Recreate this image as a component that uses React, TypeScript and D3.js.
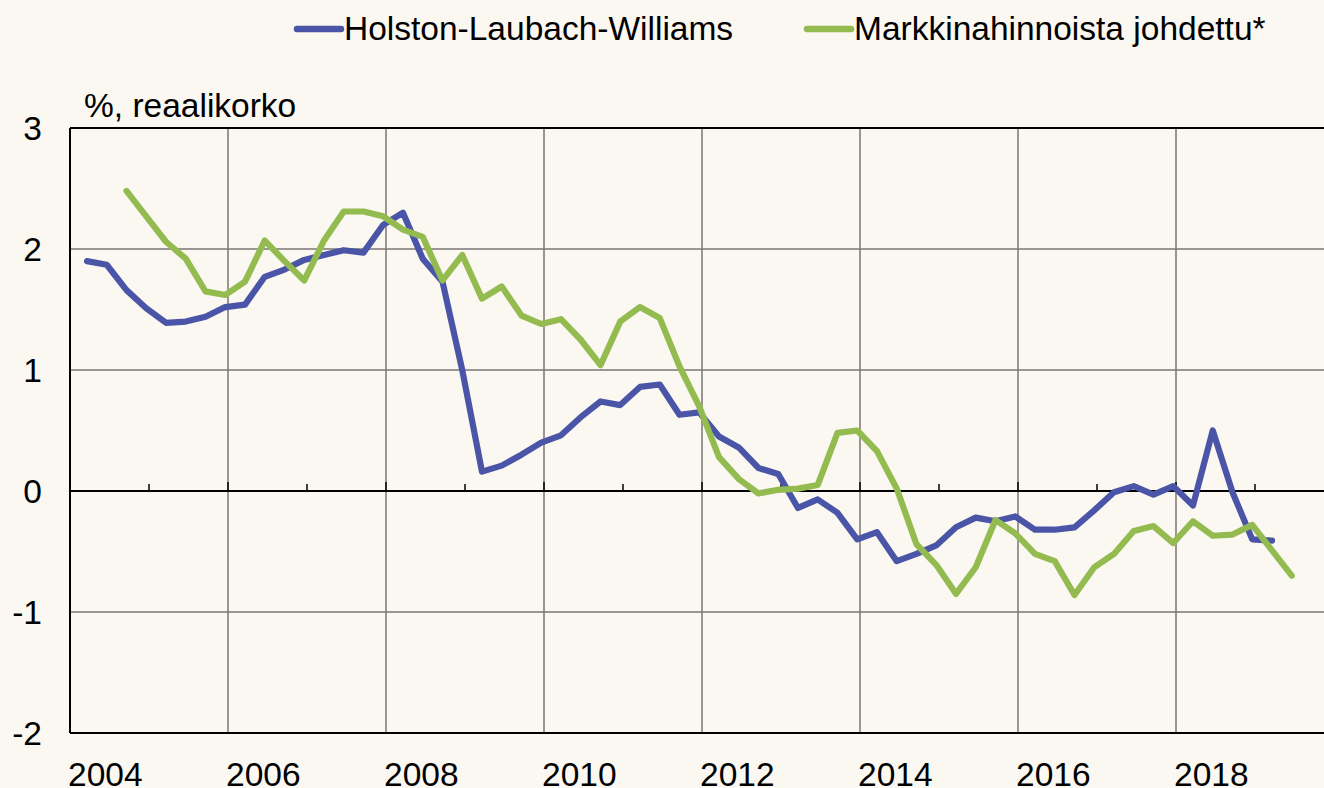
import React from "react";
import * as d3 from "d3";

// Quarterly observations, 2004Q1 - 2019Q2
const quarters = [
  "2004Q1", "2004Q2", "2004Q3", "2004Q4", "2005Q1", "2005Q2", "2005Q3", "2005Q4",
  "2006Q1", "2006Q2", "2006Q3", "2006Q4", "2007Q1", "2007Q2", "2007Q3", "2007Q4",
  "2008Q1", "2008Q2", "2008Q3", "2008Q4", "2009Q1", "2009Q2", "2009Q3", "2009Q4",
  "2010Q1", "2010Q2", "2010Q3", "2010Q4", "2011Q1", "2011Q2", "2011Q3", "2011Q4",
  "2012Q1", "2012Q2", "2012Q3", "2012Q4", "2013Q1", "2013Q2", "2013Q3", "2013Q4",
  "2014Q1", "2014Q2", "2014Q3", "2014Q4", "2015Q1", "2015Q2", "2015Q3", "2015Q4",
  "2016Q1", "2016Q2", "2016Q3", "2016Q4", "2017Q1", "2017Q2", "2017Q3", "2017Q4",
  "2018Q1", "2018Q2", "2018Q3", "2018Q4", "2019Q1", "2019Q2",
];

// Holston-Laubach-Williams, 2004Q1 - 2019Q1
const hlwValues = [
  1.9, 1.87, 1.66, 1.51, 1.39, 1.4, 1.44, 1.52, 1.54, 1.77,
  1.83, 1.91, 1.95, 1.99, 1.97, 2.2, 2.3, 1.92, 1.73, 1.0,
  0.16, 0.21, 0.3, 0.4, 0.46, 0.61, 0.74, 0.71, 0.86, 0.88,
  0.63, 0.65, 0.45, 0.36, 0.19, 0.14, -0.14, -0.07, -0.18, -0.4,
  -0.34, -0.58, -0.52, -0.45, -0.3, -0.22, -0.25, -0.21, -0.32, -0.32,
  -0.3, -0.16, -0.01, 0.04, -0.03, 0.04, -0.12, 0.5, -0.01, -0.4,
  -0.41,
];

// Markkinahinnoista johdettu, 2004Q3 - 2019Q2
const marketStart = "2004Q3";
const marketValues = [
  2.48, 2.27, 2.06, 1.92, 1.65, 1.62, 1.73, 2.07, 1.9, 1.74,
  2.07, 2.31, 2.31, 2.27, 2.16, 2.1, 1.74, 1.95, 1.59, 1.69,
  1.45, 1.38, 1.42, 1.25, 1.04, 1.4, 1.52, 1.43, 1.03, 0.7,
  0.28, 0.1, -0.02, 0.01, 0.02, 0.05, 0.48, 0.5, 0.33, 0.02,
  -0.44, -0.61, -0.85, -0.63, -0.24, -0.35, -0.52, -0.58, -0.86, -0.63,
  -0.52, -0.33, -0.29, -0.43, -0.25, -0.37, -0.36, -0.28, -0.49, -0.7,
];

const yTicks = [3, 2, 1, 0, -1, -2];
const gridYears = [2006, 2008, 2010, 2012, 2014, 2016, 2018, 2020];
const labelYears = [2004, 2006, 2008, 2010, 2012, 2014, 2016, 2018];
const minorYears = [2005, 2007, 2009, 2011, 2013, 2015, 2017, 2019];

const seriesNames = ["Holston-Laubach-Williams", "Markkinahinnoista johdettu*"];
const seriesColors = ["#4b55a7", "#93bb50"];

const width = 1324;
const height = 788;
const margin = { top: 128, left: 70, right: -10, bottom: 55 };
const font = "'Liberation Sans', Arial, sans-serif";
const fontSize = 33.5;

type Pt = { t: number; v: number };

const quarterTime = (q: string) => {
  const year = +q.slice(0, 4);
  const n = +q.slice(5);
  return year + (n - 1) / 4 + 0.215;
};

export default function App() {
  const x = d3.scaleLinear().domain([2004, 2020]).range([margin.left, width - margin.right]);
  const y = d3.scaleLinear().domain([-2, 3]).range([height - margin.bottom, margin.top]);

  const hlw: Pt[] = hlwValues.map((v, i) => ({ t: quarterTime(quarters[i]), v }));
  const offset = quarters.indexOf(marketStart);
  const market: Pt[] = marketValues.map((v, i) => ({ t: quarterTime(quarters[i + offset]), v }));

  const line = d3
    .line<Pt>()
    .x((d) => x(d.t))
    .y((d) => y(d.v));

  const x0 = x(2004);
  const x1 = x(2020);

  return (
    <svg
      width={width}
      height={height}
      style={{ position: "absolute", left: 0, top: 0, display: "block", background: "#fbf7f1" }}
      fontFamily={font}
    >
      <rect x={0} y={0} width={width} height={height} fill="#fbf7f1" />

      {/* Gridlines */}
      {yTicks
        .filter((v) => v !== 3 && v !== -2 && v !== 0)
        .map((v) => (
          <line key={`gy-${v}`} x1={x0} x2={x1} y1={y(v)} y2={y(v)} stroke="#7a7674" strokeWidth={1.5} />
        ))}
      {gridYears.map((yr) => (
        <line key={`gx-${yr}`} x1={x(yr)} x2={x(yr)} y1={y(3)} y2={y(-2)} stroke="#7a7674" strokeWidth={1.5} />
      ))}

      {/* Frame */}
      <line x1={x0} x2={x1} y1={y(3)} y2={y(3)} stroke="#000" strokeWidth={2} />
      <line x1={x0} x2={x1} y1={y(-2)} y2={y(-2)} stroke="#000" strokeWidth={2} />
      <line x1={x0} x2={x0} y1={y(3)} y2={y(-2)} stroke="#000" strokeWidth={2} />

      {/* Zero axis with ticks */}
      <line x1={x0} x2={x1} y1={y(0)} y2={y(0)} stroke="#000" strokeWidth={2} />
      {gridYears.map((yr) => (
        <line key={`tj-${yr}`} x1={x(yr)} x2={x(yr)} y1={y(0) - 9} y2={y(0)} stroke="#000" strokeWidth={1.5} />
      ))}
      {minorYears.map((yr) => (
        <line key={`tn-${yr}`} x1={x(yr)} x2={x(yr)} y1={y(0) - 7} y2={y(0)} stroke="#000" strokeWidth={1.5} />
      ))}

      {/* Series */}
      <path d={line(hlw) ?? ""} fill="none" stroke={seriesColors[0]} strokeWidth={6.2} strokeLinejoin="round" strokeLinecap="round" />
      <path d={line(market) ?? ""} fill="none" stroke={seriesColors[1]} strokeWidth={6.2} strokeLinejoin="round" strokeLinecap="round" />

      {/* Y labels */}
      {yTicks.map((v) => (
        <text key={`yl-${v}`} x={42} y={y(v)} dy="0.36em" textAnchor="end" fontSize={fontSize} fill="#000">
          {v}
        </text>
      ))}
      <text x={84} y={117} fontSize={fontSize} fill="#000">
        %, reaalikorko
      </text>

      {/* X labels */}
      {labelYears.map((yr) => (
        <text key={`xl-${yr}`} x={x(yr) - 2} y={786} fontSize={fontSize} fill="#000">
          {yr}
        </text>
      ))}

      {/* Legend */}
      {seriesNames.map((name, i) => {
        const lx = [297, 807][i];
        return (
          <g key={name}>
            <line x1={lx} x2={lx + 44} y1={29} y2={29} stroke={seriesColors[i]} strokeWidth={6.5} strokeLinecap="round" />
            <text x={lx + 47} y={40} fontSize={fontSize} fill="#000">
              {name}
            </text>
          </g>
        );
      })}
    </svg>
  );
}
